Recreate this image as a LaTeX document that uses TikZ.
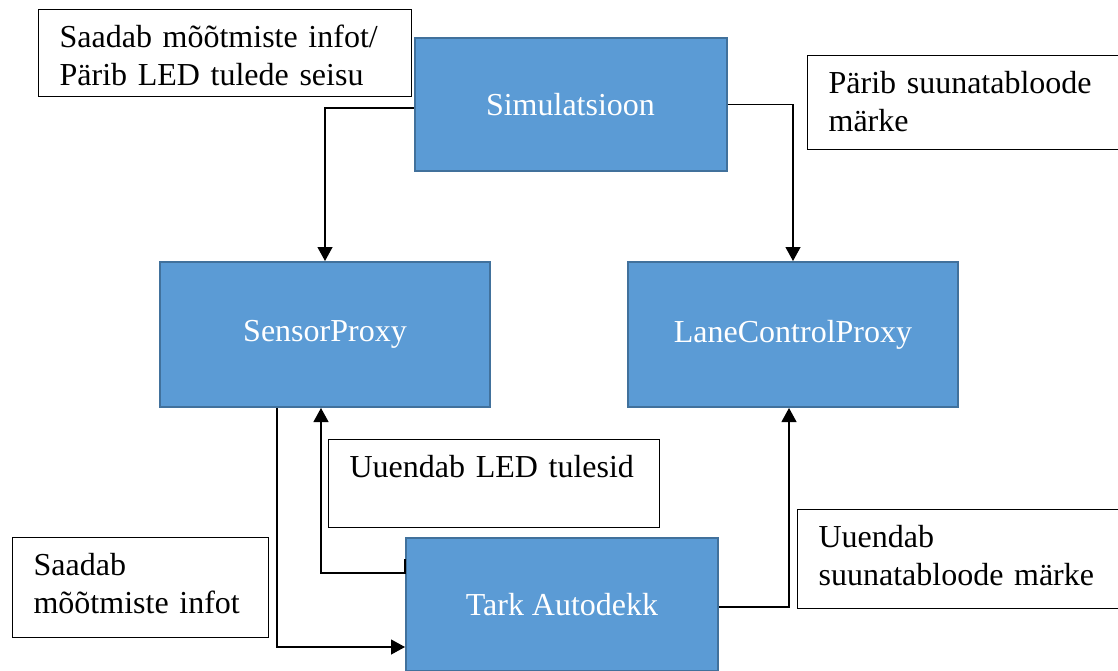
\documentclass[tikz,border=0pt]{standalone}
\usepackage{fontspec}
\setmainfont{Liberation Serif}
\usepackage{tikz}
\usetikzlibrary{arrows.meta}

\definecolor{boxblue}{HTML}{5B9BD5}
\definecolor{boxedge}{HTML}{41719C}

\begin{document}
\begin{tikzpicture}[x=1pt,y=-1pt,
  block/.style={rectangle,draw=boxedge,line width=2pt,fill=boxblue,text=white,font=\fontsize{32}{37.5}\selectfont},
  note/.style={rectangle,draw=black,line width=1.2pt,anchor=north west,align=left,inner xsep=21pt,inner ysep=0pt,text height=38pt,font=\fontsize{32}{37.5}\selectfont},
  conn/.style={line width=1.2pt,-{Triangle[width=15pt,length=14pt]}}]
\useasboundingbox (0,0) rectangle (1118,670);
%Block Coordinates
\node at (570.5,104.5) [block,minimum width=312pt,minimum height=133pt] (Sim) {Simulatsioon};
\node at (325,334.5) [block,minimum width=330pt,minimum height=145pt] (Sensor) {SensorProxy};
\node at (793,334.5) [block,minimum width=330pt,minimum height=145pt] (Lane) {LaneControlProxy};
\node at (562,604.5) [block,minimum width=312pt,minimum height=133pt] (Tark) {Tark Autodekk};
%Message Labels
\node at (38,9) [note,text width=331pt,text depth=49pt] (NoteSaadab) {Saadab mõõtmiste infot/\\Pärib LED tulede seisu};
\node at (807,55) [note,text width=288pt,text depth=56pt] (NoteParib) {Pärib suunatabloode\\märke};
\node at (328,439) [note,text width=289pt,text depth=50pt] (NoteLED) {Uuendab LED tulesid};
\node at (12,537) [note,text width=214pt,text depth=62pt] (NoteInfo) {Saadab\\mõõtmiste infot};
\node at (797,509) [note,text width=298pt,text depth=61pt] (NoteSuuna) {Uuendab\\suunatabloode märke};
%connections
\draw [conn] ([yshift=-3.5pt]Sim.west) -| (Sensor.north);
\draw [conn] (Sim.east) -| (Lane.north);
\draw [conn] ([xshift=-48pt]Sensor.south) |- ([yshift=-42.5pt]Tark.west);
\draw [conn] ([yshift=45.5pt]Tark.west) -- ([yshift=31.5pt]Tark.west) -| ([xshift=-4pt]Sensor.south);
\draw [conn] ([yshift=-2.5pt]Tark.east) -| ([xshift=-4pt]Lane.south);
\end{tikzpicture}
\end{document}
